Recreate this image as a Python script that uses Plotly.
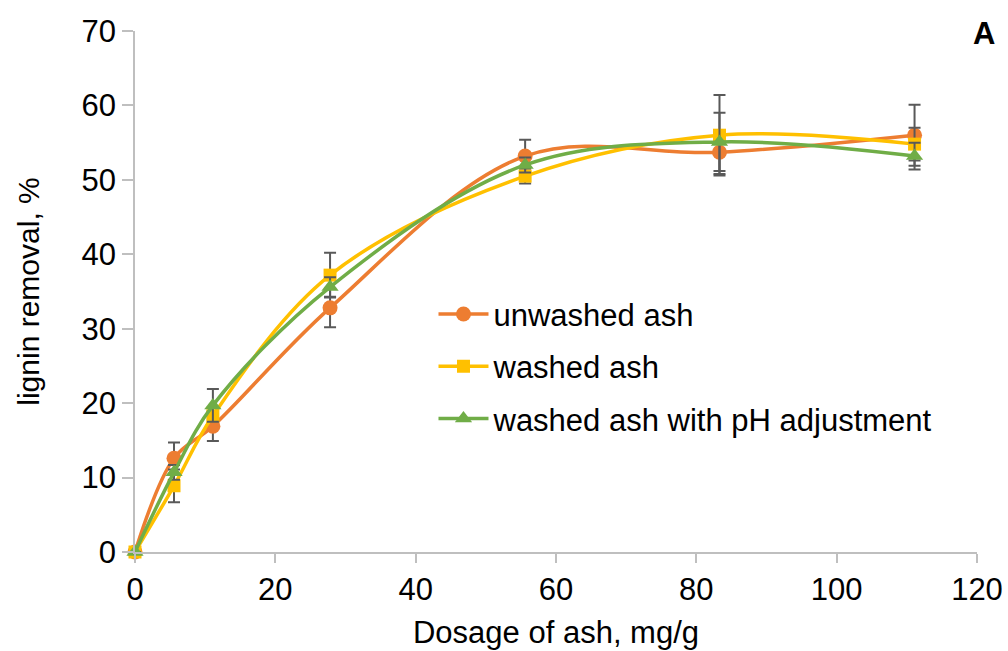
import plotly.graph_objects as go

# dosage of ash, mg/g
dosage = [0, 5.56, 11.1, 27.8, 55.6, 83.3, 111.1]

unwashed = [0, 12.6, 16.9, 32.8, 53.2, 53.7, 56.0]
unwashed_err = [0, 2.1, 2.0, 2.6, 2.2, 2.9, 4.1]

washed = [0, 8.9, 18.3, 37.2, 50.5, 56.0, 54.8]
washed_err = [0, 2.2, 0.5, 3.0, 1.0, 5.4, 2.2]

washed_ph = [0, 10.7, 19.7, 35.6, 52.0, 55.1, 53.2]
washed_ph_err = [0, 1.0, 2.2, 1.3, 1.0, 3.9, 1.8]

FONT = "Liberation Sans, Arial, sans-serif"
ERRC = "#595959"

def trace(y, err, name, color, symbol, size):
    return go.Scatter(
        x=dosage, y=y, name=name, legendgroup=name,
        mode="lines+markers",
        line=dict(color=color, width=3.5, shape="spline", smoothing=1),
        marker=dict(color=color, symbol=symbol, size=size),
        error_y=dict(type="data", array=err, visible=True,
                     color=ERRC, thickness=2, width=6),
        cliponaxis=False,
    )

fig = go.Figure()
fig.add_trace(trace(unwashed, unwashed_err, "unwashed ash", "#ED7D31", "circle", 15))
fig.add_trace(trace(washed, washed_err, "washed ash", "#FFC000", "square", 13))
fig.add_trace(trace(washed_ph, washed_ph_err, "washed ash with pH adjustment", "#70AD47", "triangle-up", 15))

fig.update_layout(
    width=1008, height=651,
    margin=dict(l=135, r=31, t=31, b=99),
    paper_bgcolor="white", plot_bgcolor="white",
    font=dict(family=FONT, size=31, color="black"),
    legend=dict(x=0.3545, y=0.508, xanchor="left", yanchor="top",
                bgcolor="rgba(0,0,0,0)", font=dict(size=31),
                tracegroupgap=9, itemwidth=50),
    xaxis=dict(range=[0, 120], dtick=20, showgrid=False, zeroline=False,
               showline=True, linecolor="#BFBFBF", linewidth=1.5,
               ticks="outside", ticklen=9, tickcolor="#BFBFBF", tickwidth=1.5,
               automargin=False,
               title=dict(text="Dosage of ash, mg/g", font=dict(size=31), standoff=15)),
    yaxis=dict(range=[0, 70], dtick=10, showgrid=False, zeroline=False,
               showline=True, linecolor="#BFBFBF", linewidth=1.5,
               ticks="outside", ticklen=11, tickcolor="#BFBFBF", tickwidth=1.5,
               automargin=False,
               title=dict(text="lignin removal, %", font=dict(size=30), standoff=33)),
    annotations=[dict(text="<b>A</b>", xref="paper", yref="paper", x=1.024, y=0.996,
                      xanchor="right", yanchor="middle", showarrow=False,
                      font=dict(size=31, color="black"))],
)

# drop the default page margin so the figure fills the window exactly
fig.write_html("out.html", config={"displayModeBar": False},
               post_script="document.body.style.margin='0';document.body.style.overflow='hidden';")
